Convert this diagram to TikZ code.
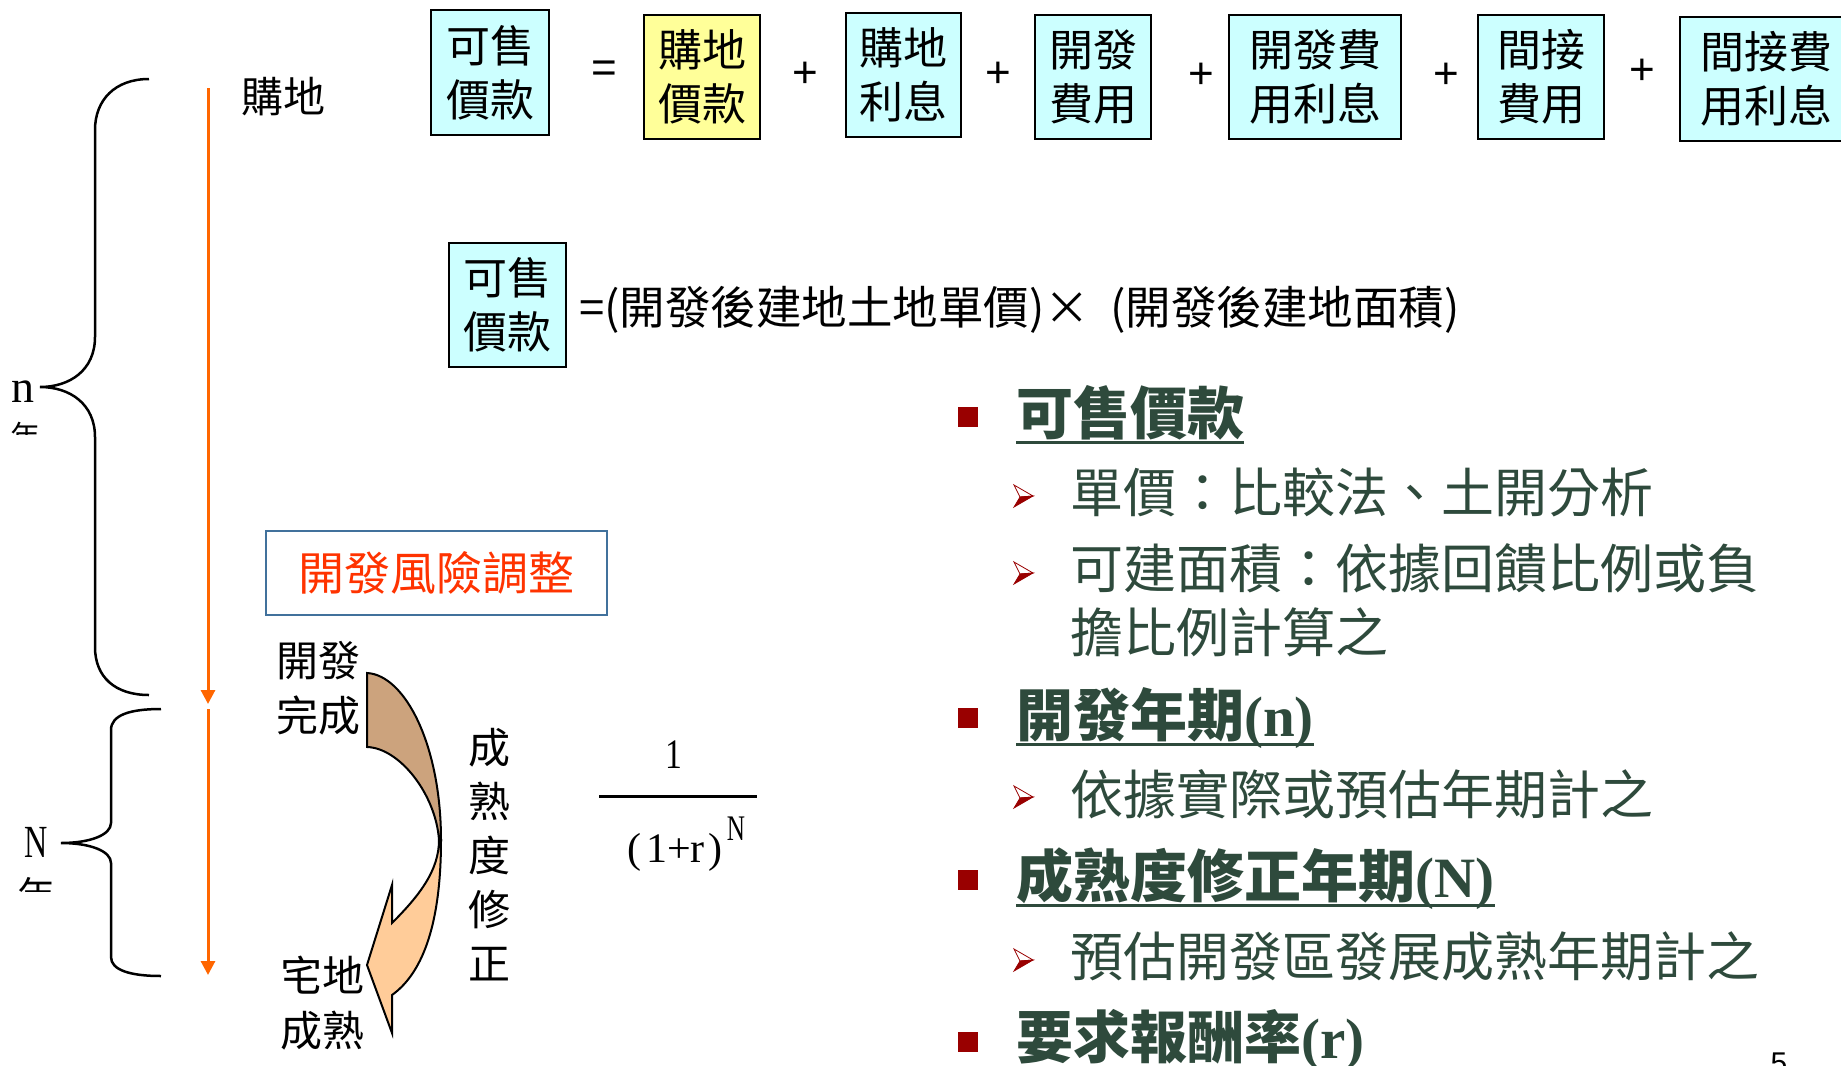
\documentclass[tikz,border=0pt]{standalone}
\usepackage{fontspec}
\usepackage{graphicx}
\setmainfont{Noto Sans CJK TC}
\newfontfamily\lserif{Liberation Serif}
\newfontfamily\lsans{Liberation Sans}
\usetikzlibrary{arrows.meta}
\newcommand\fsz[2]{\fontsize{#1}{#2}\selectfont}
\definecolor{boxcyan}{HTML}{CCFFFF}
\definecolor{boxyellow}{HTML}{FFFF99}
\definecolor{orangeln}{HTML}{FF6600}
\definecolor{riskblue}{HTML}{41719C}
\definecolor{riskred}{HTML}{FF3300}
\definecolor{tandark}{HTML}{CCA37D}
\definecolor{tanlight}{HTML}{FFCC99}
\definecolor{txtgreen}{HTML}{2E4A3C}
\definecolor{bulred}{HTML}{990000}
\begin{document}
\begin{tikzpicture}[x=1pt,y=-1pt,
  fbox/.style={draw=black, line width=2.5pt, inner sep=0pt, align=center, font=\fsz{44}{54}},
  cbox/.style={fbox, fill=boxcyan},
  ybox/.style={fbox, fill=boxyellow},
  opsym/.style={inner sep=0pt, font=\lsans\fsz{44}{44}},
  lbl/.style={inner sep=0pt, align=center, font=\fsz{42}{55}},
  orarrow/.style={draw=orangeln, line width=3pt, -{Triangle[width=14pt,length=14pt]}},
  brace/.style={draw=black, line width=2.5pt},
  hd/.style={inner sep=0pt, text=txtgreen, font=\bfseries\fsz{57}{60}},
  sub/.style={inner sep=0pt, text=txtgreen, font=\fsz{53}{60}},
  ul/.style={draw=txtgreen, line width=3pt},
  bsq/.style={fill=bulred, minimum size=20pt, inner sep=0pt},
  subarr/.pic={
    \path[draw=bulred, line width=0.8pt, fill=white] (-10,-11) -- (9,0) -- (-4,1) -- cycle;
    \path[draw=bulred, line width=0.8pt, fill=bulred] (-4,1) -- (9,0) -- (-10,11) -- cycle;
  }]
\path[use as bounding box] (0,0) rectangle (1841,1065);
\clip (0,0) rectangle (1841,1065);

% ---- top formula row
\node[cbox, minimum width=118, minimum height=125] (t1) at (490,72.5) {可售\\價款};
\node[opsym] (eq1) at (604,72) {=};
\node[ybox, minimum width=116, minimum height=124] (t2) at (702,77) {購地\\價款};
\node[opsym] (p1) at (805,75) {+};
\node[cbox, minimum width=115, minimum height=124] (t3) at (903.5,75) {購地\\利息};
\node[opsym] (p2) at (998,75) {+};
\node[cbox, minimum width=116, minimum height=124] (t4) at (1093,77) {開發\\費用};
\node[opsym] (p3) at (1201,76) {+};
\node[cbox, minimum width=172, minimum height=124] (t5) at (1315,77) {開發費\\用利息};
\node[opsym] (p4) at (1446,76) {+};
\node[cbox, minimum width=126, minimum height=124] (t6) at (1541,77) {間接\\費用};
\node[opsym] (p5) at (1642,72) {+};
\node[cbox, minimum width=172, minimum height=124] (t7) at (1766,79) {間接費\\用利息};

% ---- second formula
\node[cbox, minimum width=117, minimum height=124] (f1) at (507.5,305) {可售\\價款};
\node[anchor=west, inner sep=0pt, font=\fsz{45.5}{52}] (f2) at (579,310) {=(開發後建地土地單價)×\ \ (開發後建地面積)};

% ---- left timeline
\node[lbl] (buy) at (283,97) {購地};
\coordinate (a1s) at (208,88);
\coordinate (a1e) at (208,704);
\coordinate (a2s) at (208,709);
\coordinate (a2e) at (208,975);
\draw[orarrow] (a1s) -- (a1e);
\draw[orarrow] (a2s) -- (a2e);

% braces
\draw[brace] (149,79) .. controls (115,79) and (95,100) .. (95,130) -- (95,337)
  .. controls (95,370) and (70,387) .. (40,387)
  .. controls (70,387) and (95,404) .. (95,437) -- (95,647)
  .. controls (95,677) and (115,695) .. (149,695);
\draw[brace] (161,709) .. controls (130,709) and (111,715) .. (111,730) -- (111,823)
  .. controls (111,835) and (90,843) .. (61,843)
  .. controls (90,843) and (111,851) .. (111,863) -- (111,957)
  .. controls (111,970) and (130,976) .. (161,976);

\node[inner sep=0pt, font=\lserif\fsz{46}{50}] (nlbl) at (23,392) {n};
\begin{scope}
  \clip (0,420) rectangle (60,434);
  \node[anchor=north, inner sep=0pt, font=\fsz{30}{30}] (yr1) at (25,422) {年};
\end{scope}
\node[inner sep=0pt, font=\lserif\fsz{46}{50}] (Nlbl) at (36,842) {\scalebox{0.7}[1]{N}};
\begin{scope}
  \clip (0,875) rectangle (70,891);
  \node[anchor=north, inner sep=0pt, font=\fsz{38}{38}] (yr2) at (36,877) {年};
\end{scope}

% ---- risk box
\node[draw=riskblue, line width=2pt, minimum width=341, minimum height=84, inner sep=0pt,
  text=riskred, font=\fsz{46}{50}] (risk) at (436.5,573) {開發風險調整};

% ---- curved arrow
\path[draw=black, line width=2pt, fill=tandark] (367,673) .. controls (405,675) and (441,745) .. (441,840)
  -- (439,840) .. controls (436,795) and (400,748) .. (367,747) -- cycle;
\path[draw=black, line width=2pt, fill=tanlight] (441,840) .. controls (441,930) and (420,975) .. (392,995)
  -- (392,1033) -- (367,965) -- (392,885) -- (392,923)
  .. controls (420,895) and (439,870) .. (439,840) -- cycle;

\node[lbl, align=right] (done) at (318,688) {開發\\完成};
\node[lbl] (mature) at (322,1003) {宅地\\成熟};
\node[lbl, font=\fsz{42}{54}] (vert) at (489,855) {成\\熟\\度\\修\\正};

% ---- fraction
\node[inner sep=0pt, font=\lserif\fsz{42}{46}] (num) at (674,755) {\scalebox{0.8}[1]{1}};
\coordinate (fl) at (599,796);
\coordinate (fr) at (757,796);
\draw[line width=3pt] (fl) -- (fr);
\node[inner sep=0pt, font=\lserif\fsz{42}{46}] (den) at (675,852) {(\kern5pt1+r\kern4pt)};
\node[inner sep=0pt, font=\lserif\fsz{36}{40}] (sup) at (736,829) {\scalebox{0.7}[1]{N}};

% ---- right bullet list
\node[bsq] (b1) at (968,417) {};
\node[hd, anchor=base west] (h1) at (1016,434) {可售價款};
\draw[ul] ([yshift=-8pt]h1.base west) -- ([yshift=-8pt]h1.base east);
\pic at (1024,496) {subarr};
\node[sub, anchor=base west] (s1) at (1070,512) {單價：比較法、土開分析};
\pic at (1024,573) {subarr};
\node[sub, anchor=base west] (s2) at (1070,588) {可建面積：依據回饋比例或負};
\node[sub, anchor=base west] (s2b) at (1070,652) {擔比例計算之};

\node[bsq] (b2) at (968,718) {};
\node[hd, anchor=base west] (h2) at (1016,736) {開發年期{\lserif\bfseries(n)}};
\draw[ul] ([yshift=-8pt]h2.base west) -- ([yshift=-8pt]h2.base east);
\pic at (1024,797) {subarr};
\node[sub, anchor=base west] (s3) at (1070,814) {依據實際或預估年期計之};

\node[bsq] (b3) at (968,880) {};
\node[hd, anchor=base west] (h3) at (1016,897) {成熟度修正年期{\lserif\bfseries(N)}};
\draw[ul] ([yshift=-8pt]h3.base west) -- ([yshift=-8pt]h3.base east);
\pic at (1024,960) {subarr};
\node[sub, anchor=base west] (s4) at (1070,976) {預估開發區發展成熟年期計之};

\node[bsq] (b4) at (968,1042) {};
\node[hd, anchor=base west] (h4) at (1016,1058) {要求報酬率{\lserif\bfseries(r)}};

\node[anchor=north, inner sep=0pt, font=\lsans\fsz{30}{30}] (pg) at (1779,1053) {5};
\end{tikzpicture}
\end{document}
